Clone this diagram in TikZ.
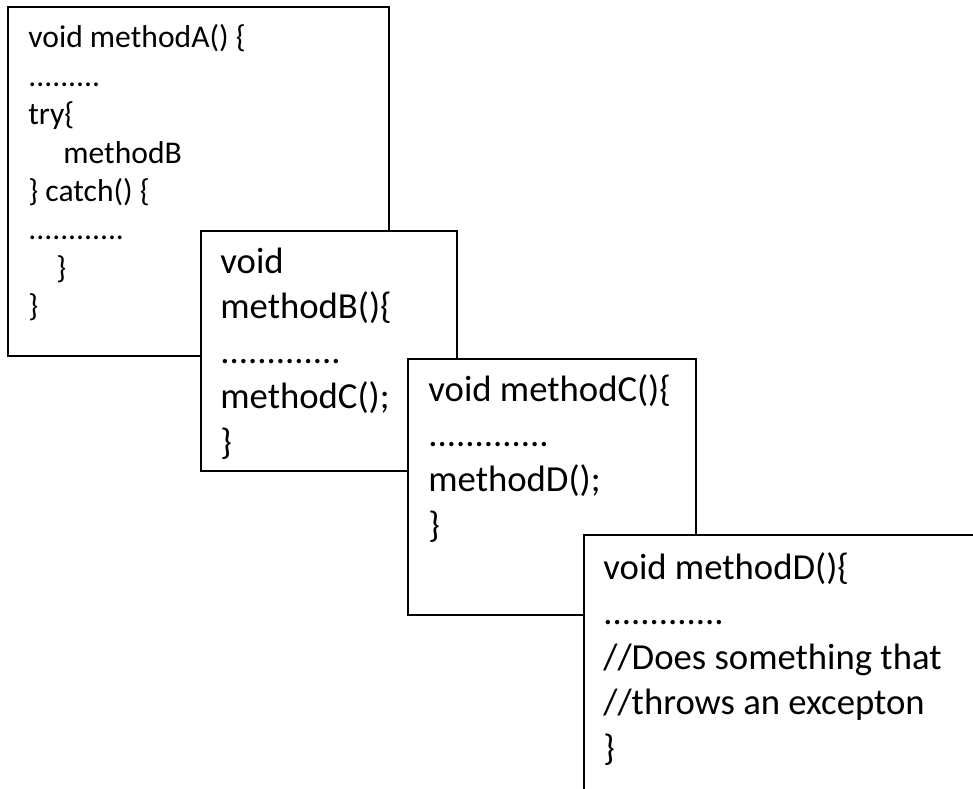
\documentclass[tikz,border=0pt]{standalone}
\usepackage{fontspec}
\setmainfont{Carlito}
\usetikzlibrary{positioning}

\begin{document}
\begin{tikzpicture}[x=0.5pt, y=-0.5pt, line join=miter,
    marco/.style={draw=black, fill=white, line width=1.15pt},
    codigo/.style={anchor=base west, inner sep=0pt, align=left, font=\fontsize{18.35}{22.6}\selectfont},
    codigochico/.style={codigo, font=\fontsize{15.8}{19.18}\selectfont}]
      \useasboundingbox (0,0) rectangle (973,788);
      \clip (0,0) rectangle (973,788);

      % Marco de methodA (el ancla es la base de la ultima linea)
      \draw[marco] (8,7) rectangle (389,356);
      \node[codigochico] (textoA) at (28,316.5) {void methodA() \{\\
        .........\\
        try\{\\
        \hspace*{17.5pt}methodB\\
        \} catch() \{\\
        ............\\
        \hspace*{14pt}\}\\
        \}};

      % Marco de methodB
      \draw[marco] (201,231) rectangle (457,471);
      \node[codigo] (textoB) at (220,454) {void\\
        methodB()\{\\
        .............\\
        methodC();\\
        \}};

      % Marco de methodC
      \draw[marco] (408,359) rectangle (696,615);
      \node[codigo] (textoC) at (428,537) {void methodC()\{\\
        .............\\
        methodD();\\
        \}};

      % Marco de methodD (sale por la derecha y por abajo)
      \draw[marco] (584,535) rectangle (1000,830);
      \node[codigo] (textoD) at (603,760) {void methodD()\{\\
        .............\\
        //Does something that\\
        //throws an excepton\\
        \}};
    \end{tikzpicture}
\end{document}
